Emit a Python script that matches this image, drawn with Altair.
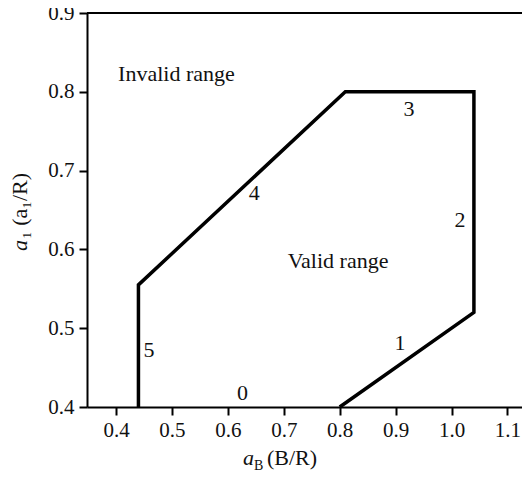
import altair as alt
import pandas as pd

# boundary of valid range (edges 5,4,3,2,1)
bx = [0.44, 0.44, 0.81, 1.04, 1.04, 0.80]
by = [0.40, 0.555, 0.80, 0.80, 0.52, 0.40]

# annotation labels
lab_text = ["Invalid range", "Valid range", "0", "1", "2", "3", "4", "5"]
lab_x = [0.4036, 0.797, 0.626, 0.908, 1.015, 0.924, 0.647, 0.459]
lab_y = [0.8137, 0.576, 0.409, 0.472, 0.628, 0.769, 0.663, 0.463]
lab_align = ["left", "center", "center", "center", "center", "center", "center", "center"]

x_ticks = [0.4, 0.5, 0.6, 0.7, 0.8, 0.9, 1.0, 1.1]
y_ticks = [0.4, 0.5, 0.6, 0.7, 0.8, 0.9]

FONT = "Times New Roman"
W, H = 435, 394

line_df = pd.DataFrame({"x": bx, "y": by, "o": list(range(len(bx)))})
lab_df = pd.DataFrame({"t": lab_text, "x": lab_x, "y": lab_y, "al": lab_align})

xs = alt.Scale(domain=[0.348, 1.126], nice=False, zero=False)
ys = alt.Scale(domain=[0.4, 0.9], nice=False, zero=False)

xax = alt.Axis(values=x_ticks, format=".1f", title=None)
yax = alt.Axis(values=y_ticks, format=".1f", title=None)

line = alt.Chart(line_df).mark_line(color="black", strokeWidth=3.5, strokeJoin="miter", clip=False).encode(
    x=alt.X("x:Q", scale=xs, axis=xax),
    y=alt.Y("y:Q", scale=ys, axis=yax),
    order="o:Q",
)

labs_left = alt.Chart(lab_df[lab_df.al == "left"]).mark_text(
    font=FONT, fontSize=22, color="#111111", align="left", baseline="alphabetic"
).encode(x="x:Q", y="y:Q", text="t:N")

labs_center = alt.Chart(lab_df[lab_df.al == "center"]).mark_text(
    font=FONT, fontSize=22, color="#111111", align="center", baseline="alphabetic"
).encode(x="x:Q", y="y:Q", text="t:N")

top = alt.Chart(pd.DataFrame({"a": [0]})).mark_rule(color="black", strokeWidth=2).encode(
    x=alt.value(0), x2=alt.value(W), y=alt.value(0)
)

one = pd.DataFrame({"a": [0]})

def txt(s, x, y, size=22, italic=False, angle=0):
    kw = dict(font=FONT, fontSize=size, color="#111111", align="left", baseline="alphabetic", text=s)
    if italic:
        kw["fontStyle"] = "italic"
    if angle:
        kw["angle"] = angle
    return alt.Chart(one).mark_text(**kw).encode(x=alt.value(x), y=alt.value(y))

xt1 = txt("a", 156, 452, italic=True)
xt2 = txt("B", 167, 457, size=14)
xt3 = txt("(B/R)", 180, 452)

yt1 = txt("a", -60, 238, italic=True, angle=270)
yt2 = txt("\u2081 (a\u2081/R)", -60, 226, angle=270)

chart = alt.layer(
    top, line, labs_left, labs_center, xt1, xt2, xt3, yt1, yt2
).properties(
    width=W, height=H,
    autosize=alt.AutoSizeParams(type="none"),
    padding={"left": 79, "top": 5, "right": 0, "bottom": 64},
).configure_view(stroke=None).configure_axis(
    domainColor="black", domainWidth=2, tickColor="black", tickWidth=2, tickSize=8,
    labelFont=FONT, labelFontSize=21, labelColor="#111111", labelPadding=5, grid=False,
).configure_axisX(labelPadding=4)

chart.save("out.html", embed_options={"renderer": "svg", "actions": False})
